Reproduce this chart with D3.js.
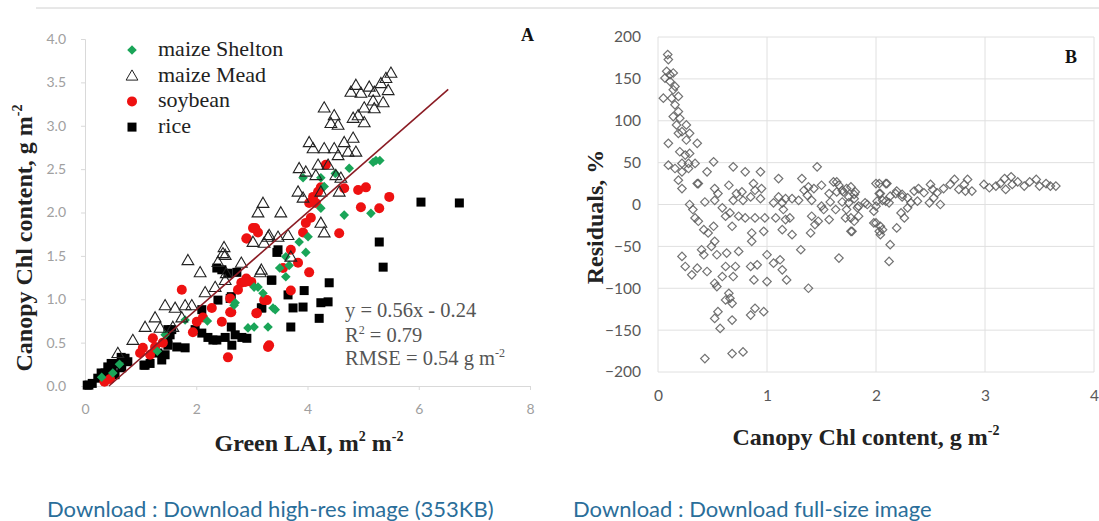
<!DOCTYPE html>
<html><head><meta charset="utf-8">
<script src="https://cdn.jsdelivr.net/npm/d3@7/dist/d3.min.js"></script>
<style>
html,body{margin:0;padding:0;background:#fff;}
svg{display:block;}
</style></head>
<body>
<svg id="chart" width="1099" height="521"></svg>
<script>
// ---------------- DATA ----------------
// Panel A: Green LAI (x) vs Canopy Chl content (y)
const sheltonPts = [[5.23,2.60],[5.18,2.58],[5.30,2.60],[4.75,2.51],[3.92,2.40],[4.24,2.40],[4.50,2.45],[4.30,2.30],[4.66,1.97],[5.14,1.99],[4.24,2.05],[4.01,1.72],[3.85,1.66],[3.97,1.54],[3.61,1.49],[3.67,1.39],[3.50,1.36],[3.11,1.14],[3.04,1.14],[3.20,1.07],[3.38,0.90],[3.42,0.88],[3.29,0.68],[3.04,0.68],[2.93,0.67],[2.68,0.93],[2.70,0.96],[3.61,1.26],[1.44,0.59],[1.80,0.76],[2.20,0.75],[1.30,0.40],[0.62,0.25],[0.50,0.15],[0.30,0.10]];
const meadPts = [[5.50,3.61],[5.41,3.55],[5.32,3.49],[5.11,3.45],[4.87,3.47],[4.78,3.39],[4.96,3.38],[5.20,3.39],[5.45,3.41],[5.36,3.27],[5.18,3.29],[5.02,3.21],[5.20,3.20],[4.91,3.12],[4.82,3.09],[5.02,3.04],[4.30,3.21],[4.48,3.12],[4.42,3.03],[4.55,3.01],[4.03,2.81],[4.10,2.74],[4.30,2.74],[4.48,2.74],[4.66,2.81],[4.82,2.86],[4.73,2.70],[4.87,2.70],[4.55,2.66],[3.85,2.51],[3.97,2.47],[4.19,2.55],[4.37,2.55],[4.15,2.43],[4.51,2.43],[4.60,2.40],[3.83,2.24],[3.92,2.17],[4.24,2.24],[4.57,2.24],[3.20,2.11],[3.11,2.00],[3.52,2.00],[3.31,1.74],[3.47,1.72],[4.24,1.88],[4.30,1.77],[3.02,1.66],[3.22,1.65],[3.65,1.74],[3.29,1.72],[2.50,1.60],[2.48,1.53],[2.52,1.51],[2.54,1.30],[2.81,1.42],[3.17,1.34],[3.70,1.49],[3.15,1.31],[1.85,1.45],[2.07,1.31],[2.39,1.43],[2.16,1.08],[2.34,1.14],[2.52,1.22],[1.44,0.93],[1.62,0.90],[1.80,0.93],[1.92,0.93],[1.26,0.79],[1.74,0.79],[1.08,0.68],[1.35,0.67],[1.58,0.68],[0.86,0.53],[0.59,0.38]];
const soyPts = [[4.33,2.55],[4.24,2.29],[4.19,2.24],[4.10,2.18],[4.03,2.11],[4.15,2.11],[4.66,2.28],[4.91,2.26],[5.05,2.29],[5.47,2.18],[4.96,2.06],[5.29,2.05],[4.06,1.94],[3.97,1.88],[3.92,1.77],[4.57,1.76],[3.02,1.82],[3.11,1.77],[3.06,1.82],[2.90,1.70],[2.91,1.70],[3.70,1.57],[3.83,1.42],[3.56,1.36],[4.03,1.31],[2.90,1.24],[2.99,1.20],[2.81,1.19],[2.88,1.20],[3.70,1.10],[3.22,0.99],[3.27,0.99],[3.08,0.84],[3.09,0.84],[2.63,0.85],[3.31,0.47],[3.29,0.45],[1.74,1.11],[2.75,1.11],[2.61,1.01],[2.28,0.90],[2.12,0.79],[2.01,0.74],[1.94,0.62],[2.46,0.74],[2.61,0.85],[1.22,0.55],[1.04,0.44],[0.99,0.38],[1.17,0.36],[1.26,0.45],[1.40,0.50],[2.57,0.33],[0.45,0.08],[0.35,0.05]];
const ricePts = [[6.04,2.12],[6.73,2.11],[5.29,1.66],[5.36,1.37],[4.39,1.19],[4.37,0.97],[4.24,0.96],[4.21,0.78],[3.70,0.68],[3.92,0.91],[3.94,1.10],[3.65,1.05],[3.35,1.22],[3.47,1.57],[3.17,0.90],[3.74,0.90],[2.37,1.36],[2.46,1.34],[2.57,1.30],[2.73,1.31],[3.45,1.54],[3.36,1.22],[3.18,0.90],[2.10,0.88],[2.61,1.01],[2.63,1.03],[2.39,0.99],[2.63,0.68],[1.98,0.65],[2.10,0.61],[2.21,0.56],[2.37,0.53],[2.52,0.56],[2.70,0.59],[2.82,0.56],[2.91,0.55],[2.64,0.47],[2.30,0.53],[1.53,0.59],[1.49,0.47],[1.44,0.36],[1.38,0.30],[1.65,0.45],[1.80,0.44],[1.49,0.53],[1.49,0.65],[1.31,0.38],[1.08,0.24],[1.17,0.26],[1.06,0.24],[1.56,0.65],[0.72,0.32],[0.65,0.33],[0.59,0.26],[0.49,0.18],[0.47,0.26],[0.36,0.15],[0.29,0.15],[0.23,0.09],[0.13,0.03],[0.04,0.01],[0.07,0.01],[0.41,0.22],[0.66,0.21],[0.77,0.28],[0.54,0.13]];
const fitLine = [[0.43,0.0],[6.53,3.42]];
const xTicksA = [0,2,4,6,8];
const yTicksA = [0,0.5,1,1.5,2,2.5,3,3.5,4];

// Panel B: Canopy Chl content (x) vs Residuals % (y)
const residPts = [[0.089,179],[0.095,173],[0.08,159],[0.11,155],[0.14,157],[0.064,151],[0.11,147],[0.156,141],[0.14,137],[0.049,127],[0.126,127],[0.187,129],[0.156,119],[0.187,111],[0.14,105],[0.2,103],[0.17,95],[0.26,95],[0.22,87],[0.187,85],[0.29,85],[0.26,77],[0.36,73],[0.095,73],[0.2,63],[0.25,59],[0.29,61],[0.34,49],[0.28,49],[0.22,49],[0.095,47],[0.156,43],[0.22,39],[0.28,43],[0.187,29],[0.22,19],[0.51,51],[0.69,45],[0.8,39],[0.94,39],[1.106,31],[1.32,31],[1.46,45],[0.45,39],[0.37,25],[0.52,19],[0.65,23],[0.876,25],[0.89,17],[0.95,19],[0.72,13],[0.69,5],[0.78,5],[0.85,9],[0.94,7],[0.43,3],[0.52,5],[1.106,9],[1.17,7],[1.23,7],[1.29,5],[1.34,17],[1.38,21],[1.41,5],[1.5,23],[1.61,27],[1.64,15],[1.69,17],[1.73,19],[1.81,15],[1.8,7],[1.75,9],[1.69,3],[1.58,3],[1.52,-6],[1.63,-6],[1.57,-18],[1.47,-20],[1.44,-24],[1.73,-6],[1.77,-16],[1.78,-32],[1.84,-14],[1.84,-2],[1.9,2],[2.0,25],[2.09,25],[2.03,13],[2.0,-2],[2.06,5],[2.12,2],[2.18,13],[2.24,9],[2.0,-22],[2.06,-30],[2.19,-28],[2.13,-48],[2.12,-68],[1.66,-64],[1.4,-34],[1.23,-36],[1.14,-30],[1.31,-54],[1.38,-100],[1.17,-18],[1.08,-16],[0.98,-16],[0.89,-16],[0.8,-16],[0.74,-14],[0.66,-10],[0.59,-4],[0.62,-14],[0.68,-26],[0.86,-34],[0.97,-32],[0.86,-44],[0.74,-56],[1.0,-60],[1.06,-70],[1.12,-66],[1.14,-78],[1.18,-90],[1.0,-92],[0.88,-90],[0.85,-74],[0.91,-72],[0.71,-74],[0.69,-86],[0.59,-86],[0.62,-74],[0.63,-58],[0.54,-60],[0.49,-50],[0.52,-44],[0.46,-34],[0.51,-26],[0.42,-30],[0.37,-20],[0.34,-16],[0.32,-6],[0.42,-60],[0.4,-54],[0.22,-62],[0.25,-74],[0.31,-84],[0.36,-76],[0.45,-80],[0.52,-94],[0.54,-98],[0.65,-106],[0.66,-112],[0.68,-118],[0.62,-114],[0.55,-128],[0.52,-136],[0.57,-148],[0.68,-138],[0.85,-132],[0.89,-124],[0.97,-128],[0.43,-184],[0.68,-178],[0.78,-176],[0.29,0],[0.36,25],[0.55,13],[0.77,15],[1.06,2],[1.14,2],[1.21,-16],[1.15,-6],[1.41,-14],[1.5,-2],[1.57,13],[1.66,23],[1.43,19],[1.37,11],[1.64,27],[1.7,15],[1.77,21],[1.8,12],[1.75,2],[1.83,-4],[1.72,-16],[1.8,-20],[1.77,-32],[1.92,0],[1.98,-8],[2.03,25],[2.1,25],[2.04,13],[2.01,4],[2.09,4],[2.13,10],[2.19,16],[2.24,12],[2.29,8],[2.35,16],[2.39,19],[2.44,14],[2.5,24],[2.52,18],[2.56,14],[2.53,8],[2.59,0],[2.49,2],[2.38,4],[2.29,-4],[2.23,-10],[2.26,-16],[2.32,2],[2.62,19],[2.68,24],[2.72,30],[2.76,18],[2.81,24],[2.84,30],[2.82,16],[2.88,16],[2.99,24],[3.04,20],[3.1,22],[3.14,25],[3.18,31],[3.24,33],[3.25,24],[3.3,27],[3.36,22],[3.41,27],[3.47,30],[3.5,22],[3.56,25],[3.6,22],[3.65,22],[3.19,18],[1.98,-22],[2.04,-26],[2.04,-36],[2.03,-32]];
const xTicksB = [0,1,2,3,4];
const yTicksB = [-200,-150,-100,-50,0,50,100,150,200];

// ---------------- DRAW ----------------
const svg = d3.select("#chart");
const serif = "'Liberation Serif','Times New Roman',serif";
const sans = "Lato,'Open Sans',sans-serif";

// top rule
svg.append("line").attr("x1",36).attr("x2",1099).attr("y1",8).attr("y2",8)
  .attr("stroke","#d0d0d0").attr("stroke-width",1);

// ===== Panel A =====
const xA = d3.scaleLinear().domain([0,8]).range([85,530]);
const yA = d3.scaleLinear().domain([0,4]).range([386,39]);

const axA = svg.append("g").attr("transform","translate(0,386)")
  .call(d3.axisBottom(xA).tickValues(xTicksA).tickSize(4).tickPadding(14).tickFormat(d3.format("d")));
const ayA = svg.append("g").attr("transform","translate(85,0)")
  .call(d3.axisLeft(yA).tickValues(yTicksA).tickSize(4).tickPadding(15).tickFormat(d3.format(".1f")));
[axA,ayA].forEach(g=>{
  g.select(".domain").attr("stroke","#d9d9d9");
  g.selectAll(".tick line").attr("stroke","#d9d9d9");
  g.selectAll("text").attr("fill","#a0a0a0").attr("font-family",sans).attr("font-size",14);
});

const gA = svg.append("g");
// rice squares
gA.selectAll(".rice").data(ricePts).enter().append("rect")
  .attr("x",d=>xA(d[0])-4.5).attr("y",d=>yA(d[1])-4.5).attr("width",9).attr("height",9)
  .attr("fill","#000");
// soybean circles
gA.selectAll(".soy").data(soyPts).enter().append("circle")
  .attr("cx",d=>xA(d[0])).attr("cy",d=>yA(d[1])).attr("r",5).attr("fill","#ee1111");
// maize Shelton diamonds
const diamondA = d3.symbol().type(d3.symbolSquare).size(46);
gA.selectAll(".shel").data(sheltonPts).enter().append("path")
  .attr("d",diamondA).attr("transform",d=>`translate(${xA(d[0])},${yA(d[1])}) rotate(45)`)
  .attr("fill","#1aa558");
// maize Mead triangles
const triA = d3.symbol().type(d3.symbolTriangle).size(60);
gA.selectAll(".mead").data(meadPts).enter().append("path")
  .attr("d",triA).attr("transform",d=>`translate(${xA(d[0])},${yA(d[1])+1})`)
  .attr("fill","none").attr("stroke","#222").attr("stroke-width",1.1);
// fit line
gA.append("line").attr("x1",xA(fitLine[0][0])).attr("y1",yA(fitLine[0][1]))
  .attr("x2",xA(fitLine[1][0])).attr("y2",yA(fitLine[1][1]))
  .attr("stroke","#8b1c24").attr("stroke-width",1.6);

// legend
const legItems = [
  {label:"maize Shelton", type:"diamond"},
  {label:"maize Mead", type:"triangle"},
  {label:"soybean", type:"circle"},
  {label:"rice", type:"square"}
];
const leg = svg.append("g");
legItems.forEach((it,i)=>{
  const cy = 50 + i*25.7, cx = 132;
  if(it.type==="diamond") leg.append("path").attr("d",diamondA).attr("transform",`translate(${cx},${cy}) rotate(45)`).attr("fill","#1aa558");
  if(it.type==="triangle") leg.append("path").attr("d",triA).attr("transform",`translate(${cx},${cy+1})`).attr("fill","none").attr("stroke","#222");
  if(it.type==="circle") leg.append("circle").attr("cx",cx).attr("cy",cy).attr("r",5).attr("fill","#ee1111");
  if(it.type==="square") leg.append("rect").attr("x",cx-4.5).attr("y",cy-4.5).attr("width",9).attr("height",9).attr("fill","#000");
  leg.append("text").attr("x",158).attr("y",cy+6).text(it.label)
    .attr("font-family",serif).attr("font-size",22).attr("fill","#222");
});

// panel label A
svg.append("text").attr("x",521).attr("y",41).text("A")
  .attr("font-family",serif).attr("font-weight","bold").attr("font-size",18).attr("fill","#111");

// equation text
const eq = svg.append("g").attr("font-family",serif).attr("font-size",20.5).attr("fill","#555");
eq.append("text").attr("x",345).attr("y",317).text("y = 0.56x - 0.24");
const r2 = eq.append("text").attr("x",345).attr("y",342);
r2.append("tspan").text("R");
r2.append("tspan").text("2").attr("font-size",12).attr("dy",-8);
r2.append("tspan").text(" = 0.79").attr("dy",8);
const rm = eq.append("text").attr("x",345).attr("y",365);
rm.append("tspan").text("RMSE = 0.54 g m");
rm.append("tspan").text("-2").attr("font-size",12).attr("dy",-8);

// axis titles A
const ytA = svg.append("text").attr("transform","translate(32,238) rotate(-90)").attr("text-anchor","middle")
  .attr("font-family",serif).attr("font-weight","bold").attr("font-size",24).attr("fill","#222");
ytA.append("tspan").text("Canopy  Chl  content, g m");
ytA.append("tspan").text("-2").attr("font-size",14).attr("dy",-10);
const xtA = svg.append("text").attr("x",309).attr("y",451).attr("text-anchor","middle")
  .attr("font-family",serif).attr("font-weight","bold").attr("font-size",24).attr("fill","#222");
xtA.append("tspan").text("Green LAI, m");
xtA.append("tspan").text("2").attr("font-size",14).attr("dy",-10);
xtA.append("tspan").text(" m").attr("dy",10);
xtA.append("tspan").text("-2").attr("font-size",14).attr("dy",-10);

// ===== Panel B =====
const xB = d3.scaleLinear().domain([0,4]).range([658,1094]);
const yB = d3.scaleLinear().domain([-200,200]).range([372,37]);

const grid = svg.append("g").attr("stroke","#e0e0e0").attr("stroke-width",1);
grid.selectAll(".hg").data(yTicksB).enter().append("line")
  .attr("x1",xB(0)).attr("x2",xB(4)).attr("y1",d=>yB(d)).attr("y2",d=>yB(d));
grid.selectAll(".vg").data(xTicksB).enter().append("line")
  .attr("y1",yB(-200)).attr("y2",yB(200)).attr("x1",d=>xB(d)).attr("x2",d=>xB(d));

const axB = svg.append("g").attr("transform",`translate(0,${yB(-200)})`)
  .call(d3.axisBottom(xB).tickValues(xTicksB).tickSize(0).tickPadding(18).tickFormat(d3.format("d")));
const ayB = svg.append("g").attr("transform",`translate(${xB(0)},0)`)
  .call(d3.axisLeft(yB).tickValues(yTicksB).tickSize(0).tickPadding(17).tickFormat(d3.format("d")));
[axB,ayB].forEach(g=>{
  g.select(".domain").remove();
  g.selectAll("text").attr("fill","#595959").attr("font-family",sans).attr("font-size",15.5);
});

const diamondB = d3.symbol().type(d3.symbolSquare).size(36);
svg.append("g").selectAll(".res").data(residPts).enter().append("path")
  .attr("d",diamondB).attr("transform",d=>`translate(${xB(d[0])},${yB(d[1])}) rotate(45)`)
  .attr("fill","none").attr("stroke","#5a5a5a").attr("stroke-width",1.2).attr("stroke-opacity",0.85);

svg.append("text").attr("x",1065).attr("y",63).text("B")
  .attr("font-family",serif).attr("font-weight","bold").attr("font-size",18).attr("fill","#111");

svg.append("text").attr("transform","translate(603,217) rotate(-90)").attr("text-anchor","middle")
  .attr("font-family",serif).attr("font-weight","bold").attr("font-size",24).attr("fill","#222")
  .text("Residuals, %");
const xtB = svg.append("text").attr("x",866).attr("y",445).attr("text-anchor","middle")
  .attr("font-family",serif).attr("font-weight","bold").attr("font-size",24).attr("fill","#222");
xtB.append("tspan").text("Canopy  Chl  content, g m");
xtB.append("tspan").text("-2").attr("font-size",14).attr("dy",-10);

// footer links
const foot = svg.append("g").attr("font-family",sans).attr("font-size",22).attr("fill","#2a6e9a");
foot.append("text").attr("x",47).attr("y",517).text("Download : Download high-res image (353KB)");
foot.append("text").attr("x",573).attr("y",517).text("Download : Download full-size image");
</script>
</body></html>
